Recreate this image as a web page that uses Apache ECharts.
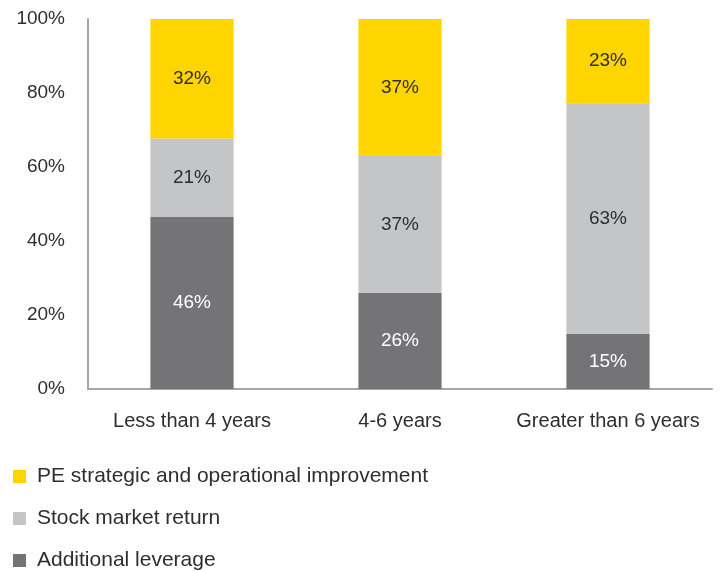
<!DOCTYPE html>
<html><head><meta charset="utf-8">
<script src="https://cdn.jsdelivr.net/npm/echarts@6/dist/echarts.min.js"></script>
<style>html,body{margin:0;padding:0;background:#fff}#c{width:724px;height:571px}</style>
</head><body><div id="c"></div>
<script>
const categories = ['Less than 4 years', '4-6 years', 'Greater than 6 years'];
const leverage = [46, 26, 15];
const stockReturn = [21, 37, 63];
const peImprovement = [32, 37, 23];
const yTicks = [0, 20, 40, 60, 80, 100];
const legendNames = ['PE strategic and operational improvement', 'Stock market return', 'Additional leverage'];

const FONT = '"Liberation Sans", Arial, sans-serif';
const TXT = '#2e2e2e';
const totals = categories.map((_, i) => leverage[i] + stockReturn[i] + peImprovement[i]);
const norm = arr => arr.map((v, i) => ({ value: v / totals[i] * 100, raw: v }));

function mk(name, arr, color, labelColor) {
  return {
    name, type: 'bar', stack: 'a', barWidth: '40%',
    data: norm(arr),
    itemStyle: { color },
    label: { show: true, position: 'inside', color: labelColor, fontSize: 19, fontFamily: FONT,
      formatter: p => p.data.raw + '%' },
    emphasis: { disabled: true }
  };
}
const legends = legendNames.map((n, i) => ({
  orient: 'vertical', left: 13, top: 466 + i * 42, padding: 0,
  data: [n], selectedMode: false,
  itemWidth: 13, itemHeight: 13, icon: 'rect',
  textStyle: { fontSize: 21, color: TXT, fontFamily: FONT, lineHeight: 14, padding: [0, 0, 0, 6] }
}));
const chart = echarts.init(document.getElementById('c'));
chart.setOption({
  animation: false,
  textStyle: { fontFamily: FONT },
  grid: { left: 88, right: 12, top: 19, bottom: 182, containLabel: false },
  legend: legends,
  xAxis: {
    type: 'category', data: categories,
    axisLine: { lineStyle: { color: '#a6a6a6', width: 2 } },
    axisTick: { show: false },
    axisLabel: { interval: 0, fontSize: 20, color: TXT, margin: 22, fontFamily: FONT }
  },
  yAxis: {
    type: 'value', min: yTicks[0], max: yTicks[yTicks.length - 1], interval: 20,
    axisLine: { show: true, lineStyle: { color: '#a6a6a6', width: 2 } },
    axisTick: { show: false },
    splitLine: { show: false },
    axisLabel: { fontSize: 19, color: TXT, margin: 23, fontFamily: FONT, formatter: '{value}%' }
  },
  series: [
    mk('Additional leverage', leverage, '#747476', '#ffffff'),
    mk('Stock market return', stockReturn, '#c4c5c7', TXT),
    mk('PE strategic and operational improvement', peImprovement, '#ffd500', TXT)
  ]
});
</script></body></html>
